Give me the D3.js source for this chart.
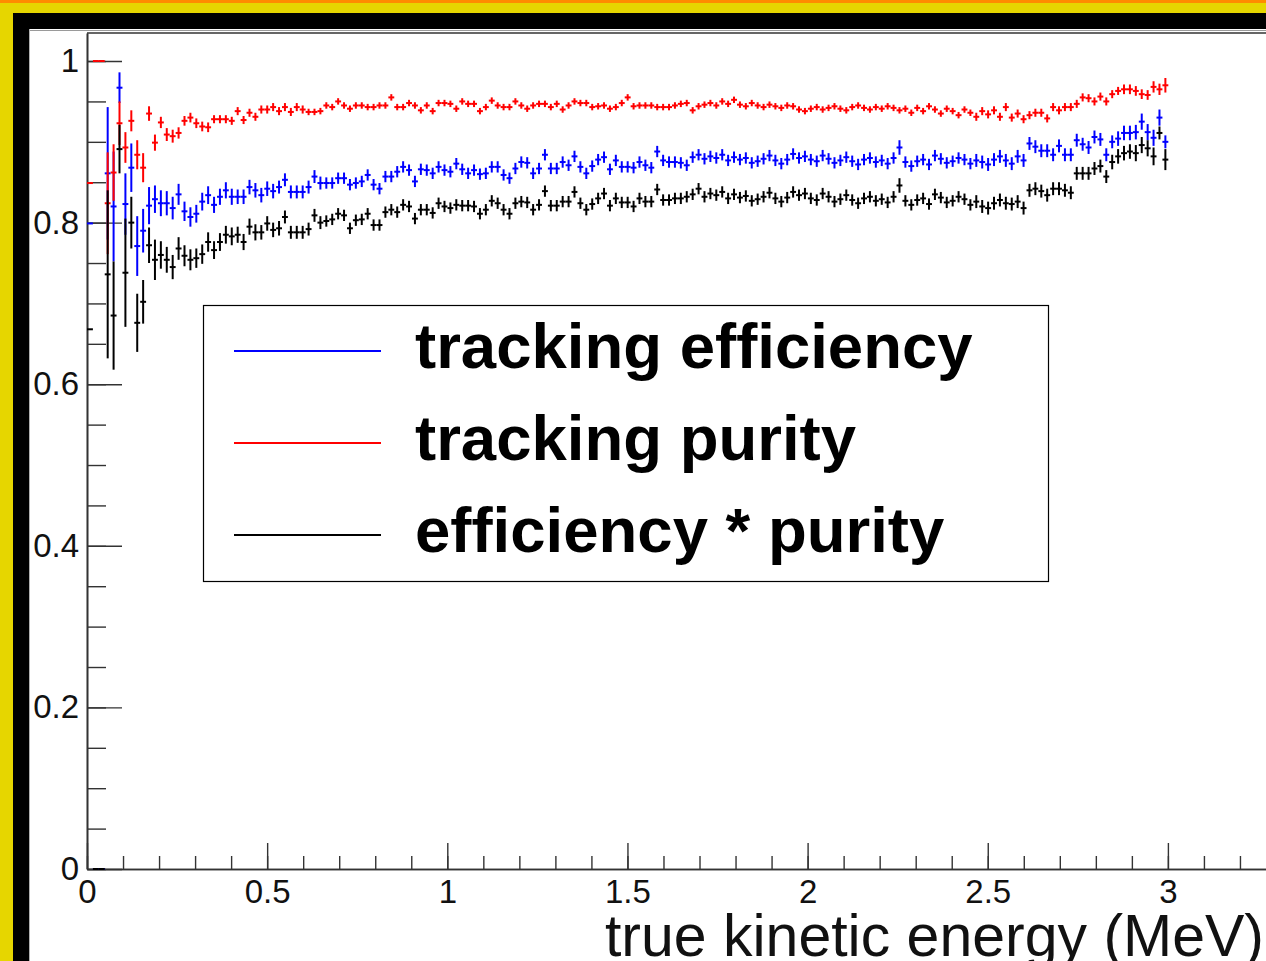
<!DOCTYPE html>
<html>
<head>
<meta charset="utf-8">
<script src="https://cdn.jsdelivr.net/npm/d3@7"></script>
<style>
  html, body { margin: 0; padding: 0; background: #fff; overflow: hidden; }
  svg { display: block; }
</style>
</head>
<body>
<svg id="chart" width="1266" height="961"></svg>
<script>
// bin width of the histograms (MeV), first bin starts at 0
const binWidth = 0.0164;

// tracking purity (red), one value per bin
const purity = [
  0.849, 1.000, 1.000, 0.824, 0.862, 0.923, 0.893, 0.926, 0.884, 0.868,
  0.935, 0.899, 0.924, 0.909, 0.907, 0.911, 0.926, 0.930, 0.923, 0.919,
  0.918, 0.928, 0.928, 0.928, 0.926, 0.938, 0.927, 0.936, 0.931, 0.940,
  0.940, 0.943, 0.938, 0.943, 0.937, 0.943, 0.940, 0.937, 0.937, 0.938,
  0.945, 0.943, 0.950, 0.945, 0.941, 0.945, 0.945, 0.943, 0.943, 0.945,
  0.945, 0.955, 0.943, 0.943, 0.948, 0.945, 0.939, 0.945, 0.938, 0.948,
  0.948, 0.947, 0.941, 0.950, 0.947, 0.947, 0.938, 0.943, 0.951, 0.945,
  0.943, 0.943, 0.950, 0.945, 0.941, 0.945, 0.947, 0.947, 0.943, 0.947,
  0.940, 0.945, 0.950, 0.948, 0.948, 0.943, 0.944, 0.945, 0.941, 0.943,
  0.948, 0.955, 0.944, 0.945, 0.945, 0.945, 0.943, 0.943, 0.943, 0.945,
  0.947, 0.948, 0.939, 0.944, 0.946, 0.948, 0.945, 0.950, 0.947, 0.952,
  0.946, 0.944, 0.948, 0.945, 0.943, 0.946, 0.944, 0.942, 0.945, 0.944,
  0.940, 0.938, 0.941, 0.943, 0.940, 0.942, 0.944, 0.941, 0.939, 0.943,
  0.945, 0.942, 0.940, 0.943, 0.941, 0.944, 0.942, 0.939, 0.941, 0.936,
  0.942, 0.938, 0.944, 0.940, 0.935, 0.941, 0.938, 0.933, 0.940, 0.936,
  0.931, 0.938, 0.934, 0.939, 0.931, 0.943, 0.930, 0.935, 0.928, 0.933,
  0.936, 0.936, 0.929, 0.943, 0.939, 0.943, 0.943, 0.947, 0.955, 0.954,
  0.950, 0.956, 0.950, 0.959, 0.963, 0.965, 0.965, 0.963, 0.959, 0.958,
  0.968, 0.965, 0.970
];

// tracking efficiency (blue)
const efficiency = [
  0.799, 0.000, 0.000, 0.861, 0.820, 0.967, 0.823, 0.868, 0.771, 0.790,
  0.821, 0.829, 0.824, 0.824, 0.818, 0.835, 0.814, 0.807, 0.811, 0.826,
  0.834, 0.822, 0.832, 0.840, 0.832, 0.832, 0.832, 0.844, 0.840, 0.834,
  0.842, 0.839, 0.844, 0.853, 0.838, 0.838, 0.838, 0.844, 0.857, 0.849,
  0.849, 0.849, 0.855, 0.855, 0.847, 0.849, 0.851, 0.859, 0.847, 0.842,
  0.857, 0.857, 0.863, 0.869, 0.865, 0.851, 0.866, 0.865, 0.861, 0.869,
  0.865, 0.863, 0.873, 0.866, 0.861, 0.865, 0.860, 0.861, 0.869, 0.869,
  0.859, 0.855, 0.867, 0.875, 0.874, 0.861, 0.867, 0.884, 0.867, 0.867,
  0.875, 0.871, 0.882, 0.869, 0.861, 0.870, 0.878, 0.881, 0.866, 0.877,
  0.869, 0.869, 0.868, 0.875, 0.871, 0.868, 0.888, 0.877, 0.875, 0.875,
  0.874, 0.871, 0.881, 0.884, 0.879, 0.882, 0.880, 0.884, 0.877, 0.881,
  0.878, 0.880, 0.874, 0.876, 0.879, 0.883, 0.877, 0.873, 0.878, 0.885,
  0.880, 0.882, 0.878, 0.876, 0.883, 0.879, 0.874, 0.877, 0.881, 0.876,
  0.872, 0.878, 0.880, 0.875, 0.877, 0.873, 0.880, 0.893, 0.875, 0.870,
  0.876, 0.878, 0.872, 0.883, 0.879, 0.874, 0.876, 0.880, 0.878, 0.873,
  0.877, 0.875, 0.872, 0.878, 0.882, 0.877, 0.873, 0.882, 0.877, 0.898,
  0.894, 0.889, 0.889, 0.884, 0.895, 0.884, 0.884, 0.902, 0.897, 0.893,
  0.906, 0.903, 0.884, 0.900, 0.904, 0.911, 0.911, 0.912, 0.925, 0.912,
  0.905, 0.930, 0.900
];

// efficiency * purity (black)
const effTimesPurity = [
  0.668, 0.000, 0.000, 0.736, 0.685, 0.891, 0.738, 0.800, 0.676, 0.702,
  0.772, 0.754, 0.760, 0.754, 0.745, 0.768, 0.759, 0.754, 0.756, 0.761,
  0.776, 0.766, 0.776, 0.785, 0.783, 0.785, 0.776, 0.795, 0.788, 0.788,
  0.799, 0.791, 0.793, 0.807, 0.788, 0.788, 0.788, 0.792, 0.809, 0.800,
  0.802, 0.804, 0.811, 0.809, 0.793, 0.803, 0.804, 0.811, 0.797, 0.797,
  0.813, 0.816, 0.813, 0.822, 0.820, 0.805, 0.816, 0.816, 0.812, 0.824,
  0.820, 0.818, 0.822, 0.821, 0.821, 0.820, 0.811, 0.816, 0.827, 0.824,
  0.816, 0.811, 0.824, 0.826, 0.825, 0.816, 0.822, 0.839, 0.821, 0.821,
  0.826, 0.826, 0.838, 0.824, 0.816, 0.823, 0.830, 0.836, 0.821, 0.830,
  0.825, 0.825, 0.820, 0.830, 0.826, 0.826, 0.841, 0.828, 0.828, 0.830,
  0.830, 0.832, 0.835, 0.842, 0.832, 0.836, 0.834, 0.838, 0.830, 0.835,
  0.831, 0.833, 0.827, 0.829, 0.832, 0.837, 0.830, 0.826, 0.831, 0.838,
  0.834, 0.836, 0.830, 0.828, 0.836, 0.832, 0.826, 0.829, 0.834, 0.828,
  0.824, 0.830, 0.832, 0.827, 0.829, 0.825, 0.832, 0.846, 0.827, 0.822,
  0.828, 0.830, 0.823, 0.835, 0.831, 0.825, 0.827, 0.832, 0.829, 0.822,
  0.826, 0.820, 0.818, 0.824, 0.828, 0.824, 0.823, 0.826, 0.818, 0.840,
  0.842, 0.839, 0.834, 0.842, 0.842, 0.840, 0.837, 0.861, 0.861, 0.861,
  0.867, 0.870, 0.857, 0.875, 0.882, 0.886, 0.888, 0.886, 0.896, 0.892,
  0.882, 0.911, 0.878
];

// error bars, in units of 0.001
const purityErr = [
  0, 0, 0, 63, 35, 27, 19, 13, 18, 18,
  9, 10, 7, 8, 8, 7, 6, 6, 6, 6,
  6, 5, 5, 5, 5, 5, 5, 5, 5, 5,
  5, 5, 5, 5, 5, 5, 5, 4, 4, 4,
  4, 4, 4, 4, 4, 4, 4, 4, 4, 4,
  4, 4, 4, 4, 4, 4, 4, 4, 4, 4,
  4, 4, 4, 4, 4, 4, 4, 4, 4, 4,
  4, 4, 4, 4, 4, 4, 4, 4, 4, 4,
  4, 4, 4, 4, 4, 4, 4, 4, 4, 4,
  4, 4, 4, 4, 4, 4, 4, 4, 4, 4,
  4, 4, 4, 4, 4, 4, 4, 4, 4, 4,
  4, 4, 4, 4, 4, 4, 4, 4, 4, 4,
  4, 4, 4, 4, 4, 4, 4, 4, 4, 4,
  4, 4, 4, 4, 4, 4, 4, 4, 4, 4,
  4, 4, 4, 4, 4, 4, 4, 4, 4, 4,
  5, 5, 5, 5, 5, 5, 5, 5, 5, 5,
  5, 5, 5, 5, 5, 5, 5, 5, 5, 5,
  5, 5, 5, 5, 5, 6, 6, 6, 6, 6,
  7, 7, 9
];
const efficiencyErr = [
  0, 0, 0, 82, 68, 19, 38, 30, 37, 27,
  23, 17, 16, 15, 14, 13, 12, 12, 11, 11,
  11, 10, 10, 10, 10, 9, 9, 9, 9, 9,
  9, 9, 8, 8, 8, 8, 8, 8, 8, 8,
  7, 7, 7, 7, 7, 7, 7, 7, 7, 7,
  7, 7, 7, 7, 7, 7, 7, 7, 7, 7,
  7, 7, 7, 7, 7, 7, 7, 7, 7, 7,
  7, 7, 7, 7, 7, 7, 7, 7, 7, 7,
  7, 7, 7, 7, 7, 7, 7, 7, 7, 7,
  7, 7, 7, 7, 7, 7, 7, 7, 7, 7,
  7, 7, 7, 7, 7, 7, 7, 7, 7, 7,
  7, 7, 7, 7, 7, 7, 7, 7, 7, 7,
  7, 7, 7, 7, 7, 7, 7, 7, 7, 7,
  7, 7, 7, 7, 7, 7, 7, 9, 7, 7,
  7, 7, 7, 7, 7, 7, 7, 7, 7, 7,
  8, 8, 8, 8, 8, 8, 8, 8, 8, 8,
  8, 8, 8, 8, 8, 8, 8, 8, 8, 8,
  8, 8, 8, 8, 9, 9, 9, 9, 10, 10,
  10, 10, 8
];
const effTimesPurityErr = [
  0, 0, 0, 104, 67, 30, 67, 32, 36, 27,
  22, 25, 17, 16, 15, 14, 13, 13, 12, 12,
  12, 11, 11, 11, 11, 10, 10, 10, 10, 9,
  9, 9, 9, 8, 8, 8, 8, 8, 8, 8,
  7, 7, 7, 7, 7, 7, 7, 7, 7, 7,
  7, 7, 7, 7, 7, 7, 7, 7, 7, 7,
  7, 7, 7, 7, 7, 7, 7, 7, 7, 7,
  7, 7, 7, 7, 7, 7, 7, 7, 7, 7,
  7, 7, 7, 7, 7, 7, 7, 7, 7, 7,
  7, 7, 7, 7, 7, 7, 7, 7, 7, 7,
  7, 7, 7, 7, 7, 7, 7, 7, 7, 7,
  7, 7, 7, 7, 7, 7, 7, 7, 7, 7,
  7, 7, 7, 7, 7, 7, 7, 7, 7, 7,
  7, 7, 7, 7, 7, 7, 7, 9, 7, 7,
  7, 7, 7, 7, 7, 7, 7, 7, 7, 7,
  8, 8, 8, 8, 8, 8, 8, 8, 8, 8,
  8, 8, 8, 8, 8, 8, 8, 8, 8, 8,
  8, 8, 8, 9, 9, 9, 9, 10, 10, 10,
  11, 8, 13
];

const xMajorTicks = [0, 0.5, 1, 1.5, 2, 2.5, 3];
const yMajorTicks = [0, 0.2, 0.4, 0.6, 0.8, 1];
const xTitle = 'true kinetic energy (MeV)';
const legendLabels = ['tracking efficiency', 'tracking purity', 'efficiency * purity'];
const seriesColors = ['#0000ff', '#ff0000', '#000000'];

const W = 1266, H = 961;
const svg = d3.select('#chart');

// window decoration around the canvas
svg.append('rect').attr('width', W).attr('height', H).attr('fill', '#e6d600');
svg.append('rect').attr('width', W).attr('height', 3).attr('fill', '#ff8c00');
svg.append('rect').attr('x', 13).attr('y', 13).attr('width', W).attr('height', H).attr('fill', '#000');
svg.append('rect').attr('x', 29).attr('y', 29).attr('width', W).attr('height', H).attr('fill', '#fff');
svg.append('line').attr('x1', 29).attr('x2', W).attr('y1', 30.5).attr('y2', 30.5)
  .attr('stroke', '#9a9a9a').attr('stroke-width', 1.2);
svg.append('line').attr('x1', 29.5).attr('x2', 29.5).attr('y1', 29).attr('y2', H)
  .attr('stroke', '#b0b0b0').attr('stroke-width', 1);

const x = d3.scaleLinear().domain([0, 3.5]).range([87, 87 + 3.5 * 360.3]);
const y = d3.scaleLinear().domain([0, 1.0347]).range([869, 33]);

// frame top
svg.append('line').attr('x1', 87).attr('x2', W).attr('y1', 33).attr('y2', 33)
  .attr('stroke', '#333').attr('stroke-width', 1.5);

const font = '"Liberation Sans", Arial, Helvetica, sans-serif';

// x axis: minor + major ticks pointing into the frame
const xMinor = svg.append('g').attr('transform', 'translate(0,869)')
  .call(d3.axisBottom(x).tickValues(d3.range(0, 36).map(i => i / 10)).tickSizeInner(-13).tickSizeOuter(0).tickFormat(''));
const xMajor = svg.append('g').attr('transform', 'translate(0,869)')
  .call(d3.axisBottom(x).tickValues(xMajorTicks).tickSizeInner(-26).tickSizeOuter(0).tickPadding(11)
    .tickFormat(d => String(d)));

// y axis
const yMinor = svg.append('g').attr('transform', 'translate(87,0)')
  .call(d3.axisLeft(y).tickValues(d3.range(0, 21).map(i => i / 20)).tickSizeInner(-19).tickSizeOuter(0).tickFormat(''));
const yMajor = svg.append('g').attr('transform', 'translate(87,0)')
  .call(d3.axisLeft(y).tickValues(yMajorTicks).tickSizeInner(-35).tickSizeOuter(0).tickPadding(8)
    .tickFormat(d => String(d)));

[xMinor, xMajor, yMinor, yMajor].forEach(g => {
  g.selectAll('path.domain').attr('stroke', '#333').attr('stroke-width', 1.6);
  g.selectAll('.tick line').attr('stroke', '#333').attr('stroke-width', 1.4);
  g.selectAll('.tick text').attr('fill', '#111').attr('font-family', font).attr('font-size', 33);
});

// x axis title, ROOT style: right aligned at the end of the axis
svg.append('text')
  .attr('x', 1264).attr('y', 956)
  .attr('text-anchor', 'end')
  .attr('font-family', font).attr('font-size', 59).attr('fill', '#111')
  .text(xTitle);

// data: horizontal bin-width bar + vertical error bar
const series = [
  { vals: efficiency, errs: efficiencyErr, color: seriesColors[0] },
  { vals: purity, errs: purityErr, color: seriesColors[1] },
  { vals: effTimesPurity, errs: effTimesPurityErr, color: seriesColors[2] }
];

series.forEach(s => {
  const pts = s.vals.map((v, i) => ({ c: (i + 0.5) * binWidth, v: v, e: (s.errs[i] || 0) / 1000 }));
  const g = svg.append('g').attr('stroke', s.color).attr('stroke-width', 2).attr('fill', 'none');
  g.selectAll('line.ebar')
    .data(pts.filter(d => d.e > 0))
    .join('line')
    .attr('class', 'ebar')
    .attr('x1', d => x(d.c)).attr('x2', d => x(d.c))
    .attr('y1', d => y(d.v - d.e)).attr('y2', d => y(d.v + d.e));
  g.selectAll('line.hbar')
    .data(pts)
    .join('line')
    .attr('class', 'hbar')
    .attr('x1', d => x(d.c - binWidth / 2)).attr('x2', d => x(d.c + binWidth / 2))
    .attr('y1', d => y(d.v)).attr('y2', d => y(d.v));
});

// legend
const legend = svg.append('g');
legend.append('rect')
  .attr('x', 203.5).attr('y', 305.5).attr('width', 845).attr('height', 276)
  .attr('fill', '#fff').attr('stroke', '#000').attr('stroke-width', 1.2);
const rowY = [351, 443, 535];
legendLabels.forEach((label, i) => {
  legend.append('line')
    .attr('x1', 234).attr('x2', 381).attr('y1', rowY[i]).attr('y2', rowY[i])
    .attr('stroke', seriesColors[i]).attr('stroke-width', 2);
  legend.append('text')
    .attr('x', 415).attr('y', rowY[i] + 17)
    .attr('font-family', font).attr('font-weight', 'bold').attr('font-size', 63.5)
    .attr('fill', '#000')
    .text(label);
});
</script>
</body>
</html>
